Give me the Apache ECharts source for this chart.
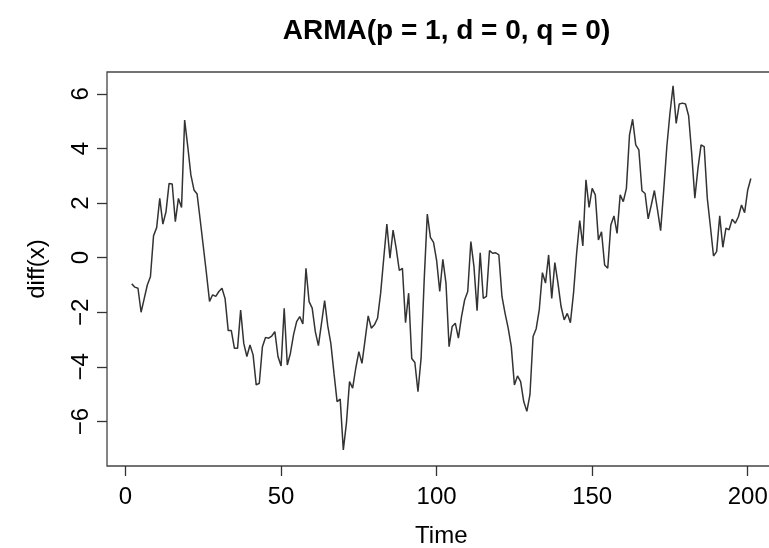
<!DOCTYPE html>
<html>
<head>
<meta charset="utf-8">
<script src="https://cdn.jsdelivr.net/npm/echarts@6/dist/echarts.min.js"></script>
<style>
html,body{margin:0;padding:0;background:#fff;}
#chart{width:769px;height:548px;}
</style>
</head>
<body>
<div id="chart"></div>
<script>
const chartTitle = 'ARMA(p = 1, d = 0, q = 0)';
const xName = 'Time';
const yName = 'diff(x)';
const xTicks = [0, 50, 100, 150, 200];
const yTicks = [-6, -4, -2, 0, 2, 4, 6];
const time = [
  2,3,4,5,6,7,8,9,10,11,12,13,14,15,16,17,18,19,20,21,
  22,23,24,25,26,27,28,29,30,31,32,33,34,35,36,37,38,39,40,41,
  42,43,44,45,46,47,48,49,50,51,52,53,54,55,56,57,58,59,60,61,
  62,63,64,65,66,67,68,69,70,71,72,73,74,75,76,77,78,79,80,81,
  82,83,84,85,86,87,88,89,90,91,92,93,94,95,96,97,98,99,100,101,
  102,103,104,105,106,107,108,109,110,111,112,113,114,115,116,117,118,119,120,121,
  122,123,124,125,126,127,128,129,130,131,132,133,134,135,136,137,138,139,140,141,
  142,143,144,145,146,147,148,149,150,151,152,153,154,155,156,157,158,159,160,161,
  162,163,164,165,166,167,168,169,170,171,172,173,174,175,176,177,178,179,180,181,
  182,183,184,185,186,187,188,189,190,191,192,193,194,195,196,197,198,199,200,201
];
const diffX = [
  -0.96,-1.08,-1.12,-2.0,-1.5,-1.0,-0.7,0.8,1.1,2.17,1.23,1.68,2.72,2.7,1.32,2.17,1.84,5.04,4.07,3.03,
  2.48,2.33,1.38,0.41,-0.57,-1.6,-1.36,-1.42,-1.24,-1.12,-1.5,-2.67,-2.67,-3.32,-3.32,-1.92,-3.14,-3.62,-3.2,-3.56,
  -4.66,-4.6,-3.26,-2.92,-2.95,-2.87,-2.71,-3.62,-3.97,-1.85,-3.93,-3.5,-2.83,-2.34,-2.16,-2.43,-0.39,-1.61,-1.85,-2.71,
  -3.22,-2.4,-1.57,-2.5,-3.15,-4.23,-5.27,-5.18,-7.04,-6.06,-4.54,-4.78,-4.05,-3.44,-3.87,-3.01,-2.13,-2.58,-2.46,-2.22,
  -1.3,-0.02,1.23,-0.02,1.01,0.34,-0.47,-0.39,-2.38,-1.3,-3.69,-3.84,-4.91,-3.69,-0.82,1.6,0.74,0.56,-0.11,-1.24,
  -0.06,-0.93,-3.26,-2.52,-2.4,-2.95,-2.16,-1.55,-1.24,0.59,-0.33,-1.94,0.18,-1.49,-1.42,0.26,0.16,0.18,0.1,-1.42,
  -2.04,-2.58,-3.26,-4.66,-4.33,-4.54,-5.27,-5.63,-5.02,-2.89,-2.6,-1.9,-0.55,-0.93,0.1,-1.49,-0.18,-0.93,-1.79,-2.28,
  -2.04,-2.38,-1.3,0.16,1.36,0.43,2.85,1.84,2.54,2.3,0.65,0.95,-0.27,-0.39,1.2,1.53,0.89,2.3,2.05,2.54,
  4.5,5.07,4.13,3.95,2.45,2.35,1.42,1.93,2.46,1.75,0.99,2.48,4.07,5.29,6.29,4.92,5.63,5.66,5.63,5.2,
  3.8,2.18,3.27,4.13,4.07,2.18,1.14,0.06,0.22,1.53,0.38,1.08,1.02,1.41,1.26,1.5,1.93,1.65,2.48,2.9
];

const FONT = '"Liberation Sans", Arial, Helvetica, sans-serif';
const chart = echarts.init(document.getElementById('chart'), null, {renderer: 'canvas'});
const seriesData = time.map((t, i) => [t, diffX[i]]);

chart.setOption({
  animation: false,
  backgroundColor: '#ffffff',
  title: {
    text: chartTitle,
    left: 441.5,
    top: 12,
    textAlign: 'center',
    textStyle: {fontSize: 28, fontWeight: 'bold', color: '#000', fontFamily: FONT}
  },
  grid: {
    left: 107, top: 72, width: 668.6, height: 394,
    show: true, borderColor: '#444', borderWidth: 1.3,
    backgroundColor: 'transparent',
    containLabel: false,
    outerBoundsMode: 'none'
  },
  xAxis: {
    type: 'value',
    position: 'bottom',
    min: -5.96,
    max: 208.96,
    axisLine: {show: false, onZero: false},
    splitLine: {show: false},
    axisTick: {show: true, inside: false, length: 10, customValues: xTicks, lineStyle: {color: '#333', width: 1.3}},
    axisLabel: {customValues: xTicks, margin: 19, fontSize: 24, color: '#000', fontFamily: FONT},
    name: xName,
    nameLocation: 'middle',
    nameGap: 58,
    nameTextStyle: {fontSize: 24, color: '#000', fontFamily: FONT}
  },
  yAxis: {
    type: 'value',
    position: 'left',
    min: -7.63,
    max: 6.8,
    axisLine: {show: false, onZero: false},
    splitLine: {show: false},
    axisTick: {show: true, inside: false, length: 10, customValues: yTicks, lineStyle: {color: '#333', width: 1.3}},
    axisLabel: {customValues: yTicks, rotate: 90, margin: 14, fontSize: 24, color: '#000', fontFamily: FONT,
      formatter: v => (v < 0 ? '\u2212' + Math.abs(v) : String(v))},
    name: yName,
    nameLocation: 'middle',
    nameRotate: 90,
    nameGap: 58,
    nameTextStyle: {fontSize: 24, color: '#000', fontFamily: FONT}
  },
  series: [{
    type: 'line',
    data: seriesData,
    showSymbol: false,
    symbol: 'none',
    lineStyle: {color: '#333', width: 1.5},
    silent: true
  }]
});
</script>
</body>
</html>
